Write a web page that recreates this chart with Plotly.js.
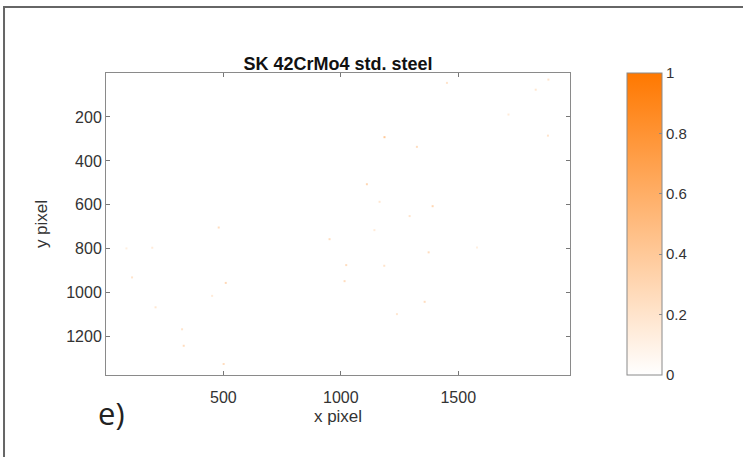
<!DOCTYPE html>
<html>
<head>
<meta charset="utf-8">
<script src="https://cdn.plot.ly/plotly-3.0.1.min.js"></script>
<style>html,body{margin:0;padding:0;background:#fff;}#chart{width:743px;height:457px;}</style>
</head>
<body>
<div id="chart"></div>
<script>
// Image extent (pixels)
var imgWidth = 1976;
var imgHeight = 1374;
// Sparse non-zero pixels
var dotX = [1452, 1830, 1884, 1714, 1882, 1186, 1324, 1111, 1165, 1391, 1293, 1143, 952, 480, 87, 197, 1374, 1580, 1023, 1185, 111, 510, 1016, 452, 211, 1357, 1239, 324, 331, 501];
var dotY = [45, 76, 30, 189, 285, 292, 336, 506, 586, 606, 651, 715, 756, 703, 798, 795, 816, 794, 874, 877, 930, 955, 947, 1014, 1066, 1041, 1097, 1166, 1241, 1324];
var dotZ = [0.2, 0.18, 0.2, 0.15, 0.2, 0.4, 0.25, 0.3, 0.18, 0.3, 0.2, 0.15, 0.25, 0.25, 0.12, 0.15, 0.25, 0.12, 0.25, 0.2, 0.2, 0.28, 0.25, 0.15, 0.18, 0.25, 0.18, 0.2, 0.25, 0.25];
var xTicks = [500, 1000, 1500];
var yTicks = [200, 400, 600, 800, 1000, 1200];
var cbTicks = [0, 0.2, 0.4, 0.6, 0.8, 1];
var colorscale = [[0, 'rgb(255,255,255)'], [1, 'rgb(255,120,0)']];

var FONT = 'Liberation Sans, Arial, Helvetica, sans-serif';
var background = {
  type: 'heatmap',
  z: [[0, 0], [0, 0]],
  x: [0, imgWidth],
  y: [0, imgHeight],
  zmin: 0, zmax: 1,
  colorscale: colorscale,
  hoverinfo: 'skip',
  colorbar: {
    x: 1.1228, xanchor: 'left', xref: 'paper', xpad: 0,
    y: 0.5, yanchor: 'middle', ypad: 0,
    len: 1, lenmode: 'fraction',
    thickness: 35, thicknessmode: 'pixels',
    outlinecolor: '#8a8a8a', outlinewidth: 1,
    ticks: 'inside', ticklen: 3, tickcolor: '#888',
    ticklabelstandoff: 4,
    tickvals: cbTicks,
    ticktext: cbTicks.map(String),
    tickfont: {family: FONT, size: 15, color: '#333'}
  }
};
var dots = {
  type: 'scatter', mode: 'markers',
  x: dotX, y: dotY,
  marker: {symbol: 'square', size: 2, color: dotZ, cmin: 0, cmax: 1, colorscale: colorscale, showscale: false},
  hoverinfo: 'skip', showlegend: false
};

var axisFont = {family: FONT, size: 16, color: '#333'};
var layout = {
  width: 743, height: 457,
  margin: {l: 106, r: 173, t: 73, b: 82},
  paper_bgcolor: '#fff', plot_bgcolor: '#fff',
  showlegend: false,
  title: {text: '<b>SK 42CrMo4 std. steel</b>', x: 0.5, xref: 'paper', xanchor: 'center', y: 1 - 64/457, yanchor: 'middle', font: {family: FONT, size: 18, color: '#111'}},
  xaxis: {
    range: [0, imgWidth], tickvals: xTicks, ticks: 'inside', ticklen: 4, tickcolor: '#777',
    showline: true, linecolor: '#8a8a8a', linewidth: 1, mirror: 'ticks', showgrid: false, zeroline: false,
    tickfont: axisFont, ticklabelstandoff: 8,
    title: {text: 'x pixel', font: {family: FONT, size: 17, color: '#333'}, standoff: 4}
  },
  yaxis: {
    range: [imgHeight, 0], tickvals: yTicks, ticks: 'inside', ticklen: 4, tickcolor: '#777',
    showline: true, linecolor: '#8a8a8a', linewidth: 1, mirror: 'ticks', showgrid: false, zeroline: false,
    tickfont: axisFont,
    title: {text: 'y pixel', font: {family: FONT, size: 17, color: '#333'}, standoff: 14}
  },
  annotations: [{
    text: 'e)', xref: 'paper', yref: 'paper', x: 0.0108, y: -0.1258, xanchor: 'center', yanchor: 'middle',
    showarrow: false, font: {family: 'Open Sans, DejaVu Sans, sans-serif', size: 31, color: '#222'}
  }],
  shapes: [{
    type: 'rect', xref: 'paper', yref: 'paper', x0: -0.2198, x1: 2, y0: -1, y1: 1.2185,
    line: {color: '#666', width: 2}, fillcolor: 'rgba(0,0,0,0)', layer: 'below'
  }]
};
Plotly.newPlot('chart', [background, dots], layout, {displayModeBar: false, staticPlot: true});
</script>
</body>
</html>
